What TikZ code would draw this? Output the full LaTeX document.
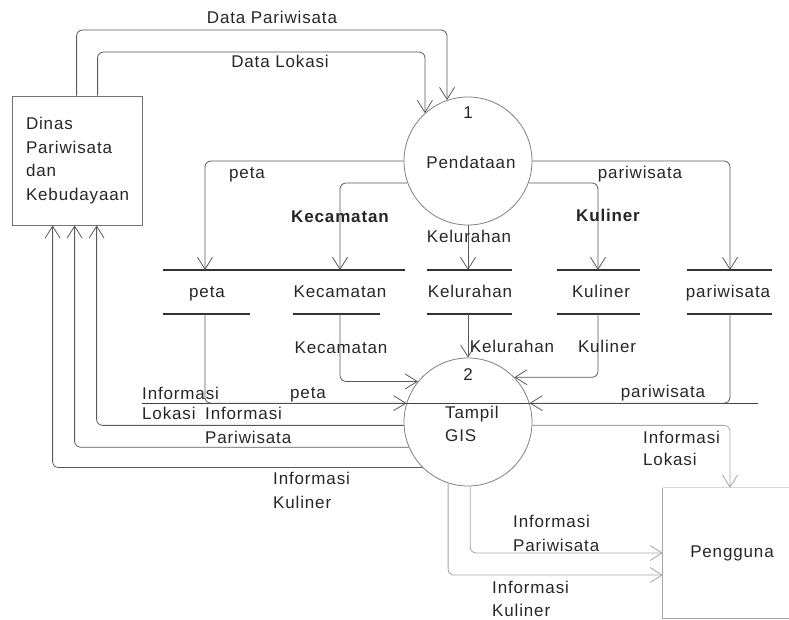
\documentclass[tikz,border=0pt]{standalone}
\usepackage{fontspec}
\setmainfont{Liberation Sans}[LetterSpace=5]
\usetikzlibrary{arrows.meta}
\begin{document}
\begin{tikzpicture}[x=1pt,y=-1pt,
  every node/.style={font=\fontsize{17}{23}\selectfont, text=black!85, inner sep=0pt},
  lbl/.style={text height=11.5pt, text depth=0pt, anchor=center},
  mlbl/.style={align=left, anchor=north west},
  flow/.style={draw=black!65, line width=0.8pt, rounded corners=6pt,
    -{Straight Barb[length=12pt,width=15pt]}},
  faintflow/.style={flow, draw=black!35},
  storeline/.style={draw=black!80, line width=1.1pt},
  plainline/.style={draw=black!75, line width=1pt},
  proc/.style={circle, draw=black!50, line width=0.8pt, minimum size=128pt},
  entity/.style={draw=black!55, line width=0.8pt, minimum width=130pt, minimum height=129pt,
    align=left, text width=102pt}
]
\useasboundingbox (0,0) rectangle (789,620);

% entities
\node[entity] (dinas) at (77,160.5) {Dinas\\[0.5pt]Pariwisata\\[0.5pt]dan\\[0.5pt]Kebudayaan};
\node[minimum width=138pt, minimum height=130pt] (peng) at (732,553) {Pengguna};
\draw[draw=black!15, line width=0.8pt] (peng.north east) -- (peng.north west);
\draw[draw=black!35, line width=0.8pt] (peng.north west) -- (peng.south west) -- (peng.south east);

% processes
\node[proc] (p1) at (468,161) {};
\node[lbl] (p1num) at (468,113) {1};
\node[lbl] (p1txt) at (471,163) {Pendataan};
\node[proc] (p2) at (468,422) {};
\node[lbl] (p2num) at (468,375) {2};
\node[mlbl] (p2txt) at (445,405.5) {Tampil\\GIS};

% data stores
\node[lbl] (s1) at (207,292) {peta};
\node[lbl] (s2) at (340,292) {Kecamatan};
\node[lbl] (s3) at (470,292) {Kelurahan};
\node[lbl] (s4) at (601,292) {Kuliner};
\node[lbl] (s5) at (728,292) {pariwisata};
\coordinate (s1t) at (205,270); \coordinate (s1b) at (205,314);
\coordinate (s2t) at (340,270); \coordinate (s2b) at (340,314);
\coordinate (s3t) at (468,270); \coordinate (s3b) at (468,314);
\coordinate (s4t) at (598,270); \coordinate (s4b) at (598,314);
\coordinate (s5t) at (730,270); \coordinate (s5b) at (730,314);
\draw[storeline] (163,270) -- (405,270);
\draw[storeline] (427,270) -- (512,270);
\draw[storeline] (557,270) -- (640,270);
\draw[storeline] (687,270) -- (772,270);
\draw[storeline] (163,314) -- (250,314);
\draw[storeline] (293,314) -- (380,314);
\draw[storeline] (427,314) -- (512,314);
\draw[storeline] (557,314) -- (640,314);
\draw[storeline] (687,314) -- (772,314);

% Dinas -> Pendataan
\coordinate (c1) at (447,30);
\coordinate (c2) at (425,52);
\draw[flow] ([xshift=65pt]dinas.north west) |- (c1) -- (p1.109);
\draw[flow] ([xshift=86pt]dinas.north west) |- (c2) -- (p1.132);
\node[lbl] (l1) at (272,18) {Data Pariwisata};
\node[lbl] (l2) at (280,62) {Data Lokasi};

% Pendataan -> stores
\draw[flow] (p1.180) -| (s1t);
\draw[flow] (p1.200) -| (s2t);
\draw[flow] (p1.south) -- (s3t);
\draw[flow] (p1.340) -| (s4t);
\draw[flow] (p1.0) -| (s5t);
\node[lbl] (l3) at (247,173) {peta};
\node[lbl,font=\fontsize{17}{23}\selectfont\bfseries] (l4) at (340,217) {Kecamatan};
\node[lbl] (l5) at (469,237) {Kelurahan};
\node[lbl,font=\fontsize{17}{23}\selectfont\bfseries] (l6) at (608,216) {Kuliner};
\node[lbl] (l7) at (640,173) {pariwisata};

% stores -> Tampil GIS
\draw[plainline] (142,403) -- (758,403);
\draw[flow] (s1b) |- (p2.163);
\draw[flow] (s2b) |- (p2.141);
\draw[flow] (s3b) -- (p2.north);
\draw[flow] (s4b) |- (p2.44);
\draw[flow] (s5b) |- (p2.17);
\node[lbl] (l8) at (341,348) {Kecamatan};
\node[lbl] (l9) at (512,347) {Kelurahan};
\node[lbl] (l10) at (607,347) {Kuliner};
\node[lbl] (l11) at (308,393) {peta};
\node[lbl] (l12) at (663,392) {pariwisata};

% Tampil GIS -> Dinas
\draw[flow] (p2.183) -| ([xshift=85pt]dinas.south west);
\draw[flow] (p2.203) -| ([xshift=63pt]dinas.south west);
\draw[flow] (p2.225) -| ([xshift=41pt]dinas.south west);
\node[mlbl] (l13) at (142,386.5) {Informasi\\[-3pt]Lokasi};
\node[mlbl] (l14) at (205,406.5) {Informasi\\[1pt]Pariwisata};
\node[mlbl] (l15) at (273,471.5) {Informasi\\[1pt]Kuliner};

% Tampil GIS -> Pengguna
\draw[faintflow] (p2.357) -| ([xshift=-2pt]peng.north);
\draw[faintflow] (p2.272) |- (peng.west);
\draw[faintflow] (p2.252) |- ([yshift=-22pt]peng.west);
\node[mlbl] (l16) at (643,430.5) {Informasi\\[-1pt]Lokasi};
\node[mlbl] (l17) at (513,514.5) {Informasi\\[1pt]Pariwisata};
\node[mlbl] (l18) at (492,580.5) {Informasi\\Kuliner};
\end{tikzpicture}
\end{document}
